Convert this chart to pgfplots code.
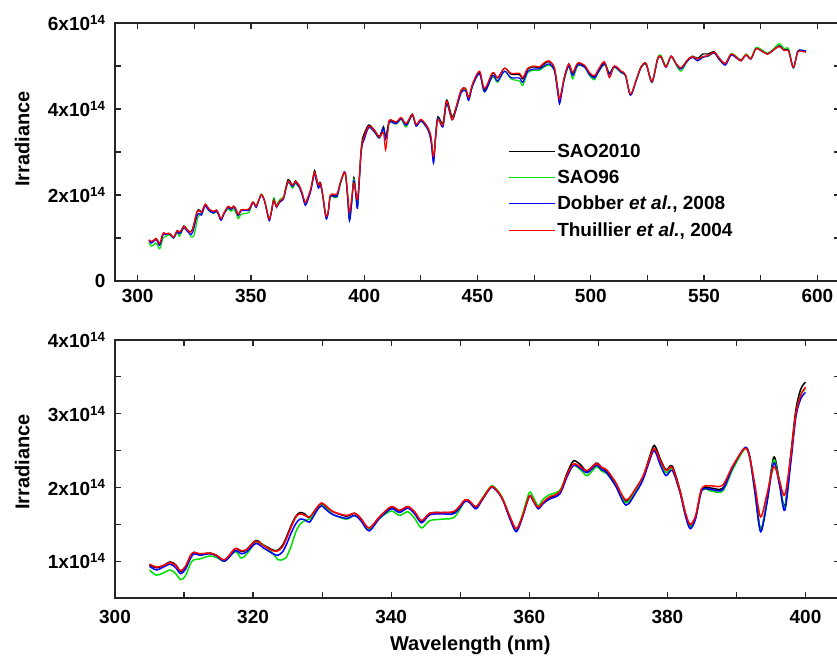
\documentclass[border=0pt]{standalone}
\usepackage{fontspec}
\setmainfont{Liberation Sans}
\usepackage{pgfplots}
\usepackage{pgfplotstable}
\pgfplotsset{compat=1.18}
\definecolor{sgreen}{RGB}{0,225,0}
\definecolor{sblue}{RGB}{0,0,255}
\definecolor{sred}{RGB}{255,0,0}
\pgfplotstableread{
x k g b r
305.0 0.95 0.88 0.93 0.96
306.0 0.91 0.81 0.88 0.92
307.0 0.94 0.84 0.92 0.94
308.0 0.99 0.88 0.96 0.98
308.8 0.95 0.83 0.91 0.94
309.5 0.86 0.75 0.83 0.87
310.2 0.92 0.80 0.89 0.93
311.0 1.08 0.98 1.05 1.09
311.5 1.12 1.02 1.10 1.12
312.3 1.09 1.03 1.08 1.10
313.7 1.11 1.07 1.10 1.11
314.7 1.08 1.05 1.07 1.08
315.9 1.01 1.00 1.00 1.02
317.4 1.17 1.13 1.14 1.17
318.3 1.13 1.04 1.10 1.14
319.1 1.16 1.10 1.13 1.16
320.4 1.28 1.25 1.24 1.27
321.5 1.22 1.22 1.18 1.21
322.9 1.15 1.10 1.10 1.14
323.6 1.15 1.02 1.08 1.14
324.3 1.22 1.02 1.13 1.20
324.8 1.32 1.05 1.22 1.30
325.5 1.48 1.20 1.38 1.46
326.2 1.61 1.40 1.51 1.60
326.8 1.66 1.50 1.57 1.64
327.5 1.64 1.55 1.56 1.62
328.2 1.59 1.57 1.53 1.60
329.2 1.72 1.70 1.68 1.72
329.9 1.78 1.76 1.75 1.79
330.8 1.72 1.70 1.68 1.73
331.6 1.67 1.63 1.63 1.67
333.5 1.61 1.57 1.58 1.62
334.7 1.65 1.62 1.62 1.65
335.6 1.58 1.56 1.55 1.58
336.8 1.44 1.43 1.41 1.45
338.3 1.60 1.58 1.58 1.60
340.0 1.73 1.68 1.71 1.74
341.2 1.68 1.62 1.66 1.69
342.4 1.74 1.67 1.72 1.74
343.4 1.66 1.58 1.64 1.67
344.4 1.53 1.45 1.52 1.55
345.6 1.65 1.55 1.63 1.65
347.5 1.66 1.57 1.64 1.66
349.2 1.67 1.60 1.65 1.68
350.7 1.83 1.82 1.81 1.83
351.4 1.81 1.80 1.79 1.81
352.3 1.73 1.74 1.71 1.74
353.3 1.85 1.87 1.85 1.86
354.5 2.01 2.02 2.00 2.01
355.4 1.95 1.96 1.94 1.95
356.2 1.83 1.84 1.82 1.83
357.2 1.60 1.59 1.57 1.60
358.1 1.43 1.42 1.40 1.44
358.9 1.58 1.60 1.56 1.58
360.0 1.88 1.93 1.88 1.88
360.6 1.82 1.86 1.81 1.82
361.3 1.73 1.75 1.71 1.73
362.0 1.79 1.84 1.78 1.80
362.9 1.85 1.90 1.84 1.87
364.4 1.94 1.96 1.91 1.94
365.5 2.20 2.17 2.15 2.18
366.4 2.36 2.30 2.30 2.32
367.4 2.31 2.24 2.26 2.28
368.4 2.22 2.16 2.20 2.23
369.7 2.33 2.28 2.30 2.32
370.5 2.27 2.22 2.24 2.27
371.2 2.22 2.19 2.20 2.24
372.5 2.05 2.03 2.02 2.07
374.0 1.81 1.79 1.76 1.83
375.5 1.99 1.97 1.94 2.00
376.5 2.15 2.14 2.11 2.16
377.3 2.38 2.35 2.33 2.36
378.1 2.57 2.52 2.50 2.53
379.0 2.38 2.33 2.30 2.36
379.8 2.24 2.20 2.16 2.23
380.7 2.29 2.25 2.23 2.27
381.8 1.97 1.94 1.94 1.96
382.6 1.65 1.63 1.62 1.66
383.3 1.47 1.46 1.44 1.50
384.1 1.60 1.60 1.58 1.62
385.0 1.98 1.96 1.96 1.99
386.4 1.99 1.95 1.97 2.02
388.0 1.99 1.95 1.97 2.03
389.5 2.28 2.25 2.28 2.30
391.2 2.53 2.52 2.54 2.53
391.9 2.42 2.42 2.43 2.42
392.7 1.95 1.92 1.92 2.02
393.5 1.43 1.42 1.40 1.60
394.4 1.80 1.80 1.78 1.90
395.4 2.41 2.37 2.33 2.28
396.2 2.10 2.08 2.05 2.10
397.0 1.74 1.72 1.69 1.90
397.9 2.47 2.40 2.36 2.45
398.6 3.05 2.98 2.95 3.00
399.3 3.33 3.26 3.20 3.25
400.0 3.43 3.33 3.29 3.36
402.0 3.63 3.58 3.57 3.60
404.5 3.51 3.46 3.47 3.50
406.7 3.36 3.32 3.33 3.35
408.5 3.59 3.55 3.55 3.45
409.4 3.35 3.30 3.30 3.05
410.3 3.55 3.50 3.50 3.40
411.2 3.74 3.70 3.70 3.74
414.1 3.69 3.65 3.66 3.70
416.3 3.80 3.76 3.77 3.80
418.5 3.65 3.58 3.62 3.66
421.2 3.88 3.85 3.85 3.87
422.9 3.63 3.62 3.60 3.64
425.1 3.74 3.72 3.72 3.76
428.1 3.55 3.52 3.52 3.57
429.5 3.30 3.25 3.25 3.35
430.6 2.81 2.78 2.74 2.90
431.5 3.40 3.35 3.35 3.30
432.5 3.82 3.78 3.78 3.75
434.7 3.67 3.60 3.58 3.63
436.4 4.21 4.12 4.12 4.18
438.8 3.82 3.76 3.75 3.75
440.6 4.05 4.00 4.00 4.05
442.8 4.44 4.38 4.38 4.44
444.7 4.48 4.45 4.43 4.48
446.1 4.27 4.22 4.20 4.27
447.9 4.58 4.55 4.55 4.60
450.9 4.85 4.82 4.82 4.88
453.1 4.44 4.40 4.40 4.48
456.7 4.83 4.75 4.78 4.85
458.9 4.72 4.62 4.65 4.73
461.9 4.95 4.88 4.88 4.95
464.8 4.81 4.70 4.73 4.83
468.5 4.80 4.65 4.72 4.83
470.0 4.70 4.55 4.62 4.73
472.2 4.93 4.85 4.88 4.95
475.1 4.98 4.90 4.93 5.00
477.3 4.95 4.90 4.93 4.98
479.5 5.05 4.98 5.00 5.08
481.7 5.10 5.02 5.05 5.12
483.9 4.95 4.90 4.90 4.97
485.2 4.55 4.50 4.45 4.55
486.2 4.21 4.20 4.12 4.23
487.3 4.45 4.45 4.40 4.48
488.4 4.75 4.70 4.72 4.76
490.3 5.05 5.00 5.00 5.05
492.0 4.83 4.70 4.78 4.85
494.2 5.05 5.00 5.02 5.07
497.2 5.00 4.97 4.98 5.02
499.4 4.83 4.78 4.80 4.85
501.6 4.75 4.68 4.72 4.77
503.1 4.87 4.83 4.84 4.90
506.0 5.08 5.03 5.05 5.10
508.2 4.83 4.80 4.80 4.73
510.4 5.00 4.97 4.98 5.00
513.4 4.87 4.84 4.85 4.88
515.3 4.79 4.77 4.78 4.80
517.5 4.33 4.33 4.32 4.35
520.0 4.67 4.65 4.65 4.67
522.2 4.98 4.96 4.97 4.98
524.4 5.06 5.03 5.04 5.05
527.0 4.64 4.62 4.62 4.64
529.5 5.18 5.17 5.15 5.16
531.0 5.23 5.25 5.20 5.22
533.2 4.98 5.00 4.97 4.98
535.4 5.23 5.22 5.22 5.23
537.6 5.06 5.03 5.05 5.06
539.8 4.95 4.88 4.93 4.96
542.7 5.14 5.12 5.12 5.14
544.9 5.23 5.22 5.20 5.22
547.2 5.18 5.16 5.12 5.16
549.4 5.28 5.22 5.20 5.22
551.6 5.28 5.22 5.23 5.24
554.5 5.33 5.30 5.30 5.32
556.7 5.18 5.15 5.15 5.18
559.4 5.06 5.05 5.02 5.06
561.9 5.28 5.28 5.25 5.28
564.4 5.20 5.22 5.18 5.20
566.3 5.14 5.12 5.12 5.12
568.5 5.26 5.28 5.25 5.26
570.7 5.18 5.18 5.16 5.17
572.9 5.41 5.43 5.40 5.40
575.8 5.36 5.36 5.33 5.34
578.0 5.28 5.30 5.28 5.27
580.3 5.36 5.38 5.36 5.36
583.2 5.47 5.52 5.46 5.45
585.4 5.37 5.40 5.36 5.36
587.3 5.37 5.40 5.36 5.35
589.4 4.97 4.95 4.96 4.97
591.3 5.33 5.34 5.34 5.32
593.0 5.35 5.36 5.37 5.34
595.0 5.33 5.33 5.35 5.32
}\spec
\pgfplotsset{
  myaxis/.style={
  scale only axis, width=725pt, height=258pt,
  axis line style={line width=1.2pt, black!85},
  major tick length=6pt, minor tick length=6pt,
  every tick/.style={black!85, line width=1.2pt},
  tick label style={font=\fontsize{19}{22}\selectfont\bfseries},
  label style={font=\fontsize{20}{24}\selectfont\bfseries},
  /pgf/number format/assume math mode=true,
  yticklabel style={xshift=-6pt},
}}
\begin{document}
\begin{tikzpicture}
\begin{axis}[myaxis, at={(115pt,376pt)}, anchor=south west,
  xmin=290, xmax=610, ymin=0, ymax=6,
  xtick={300,350,...,600}, minor xtick={325,375,...,575},
  ytick={0,2,4,6}, minor ytick={1,3,5},
  yticklabels={0,2x10\textsuperscript{14},4x10\textsuperscript{14},6x10\textsuperscript{14}},
  xticklabel style={yshift=-5pt},
  ylabel={Irradiance},
  ylabel style={at={(axis description cs:-0.128,0.55)}, anchor=center},
  legend style={draw=none, fill=none, at={(axis description cs:0.538,0.545)}, anchor=north west,
    font=\fontsize{19}{22}\selectfont\bfseries, row sep=7pt},
  legend cell align=left,
  legend image code/.code={\draw[#1] (0pt,0pt) -- (46pt,0pt);},
]
\addlegendimage{color=black, line width=1pt}
\addlegendentry{SAO2010}
\addlegendimage{color=sgreen, line width=1pt}
\addlegendentry{SAO96}
\addlegendimage{color=sblue, line width=1pt}
\addlegendentry{Dobber \textit{et al.}, 2008}
\addlegendimage{color=sred, line width=1pt}
\addlegendentry{Thuillier \textit{et al.}, 2004}
\addplot[forget plot, color=black, line width=1.2pt, smooth, tension=0.5] table[x=x,y=k]{\spec};
\addplot[forget plot, color=sgreen, line width=1.2pt, smooth, tension=0.5] table[x=x,y=g]{\spec};
\addplot[forget plot, color=sblue, line width=1.2pt, smooth, tension=0.5] table[x=x,y=b]{\spec};
\addplot[forget plot, color=sred, line width=1.2pt, smooth, tension=0.5] table[x=x,y=r]{\spec};
\end{axis}
\begin{axis}[myaxis, at={(115pt,59pt)}, anchor=south west,
  xmin=300, xmax=405, ymin=0.5, ymax=4,
  xtick={300,320,...,400}, minor xtick={310,330,...,390},
  ytick={1,2,3,4}, minor ytick={0.5,1.5,2.5,3.5},
  yticklabels={1x10\textsuperscript{14},2x10\textsuperscript{14},3x10\textsuperscript{14},4x10\textsuperscript{14}},
  xticklabel style={yshift=-9pt},
  ylabel={Irradiance},
  ylabel style={at={(axis description cs:-0.128,0.527)}, anchor=center},
  xlabel={Wavelength (nm)},
  xlabel style={at={(axis description cs:0.49,-0.205)}, anchor=base},
]
\addplot[color=black, line width=1.5pt, smooth, tension=0.5, restrict x to domain=300:400] table[x=x,y=k]{\spec};
\addplot[color=sgreen, line width=1.5pt, smooth, tension=0.5, restrict x to domain=300:400] table[x=x,y=g]{\spec};
\addplot[color=sblue, line width=1.5pt, smooth, tension=0.5, restrict x to domain=300:400] table[x=x,y=b]{\spec};
\addplot[color=sred, line width=1.5pt, smooth, tension=0.5, restrict x to domain=300:400] table[x=x,y=r]{\spec};
\end{axis}
\pgfresetboundingbox
\path[use as bounding box] (0,0) rectangle (837pt,657pt);
\end{tikzpicture}
\end{document}
